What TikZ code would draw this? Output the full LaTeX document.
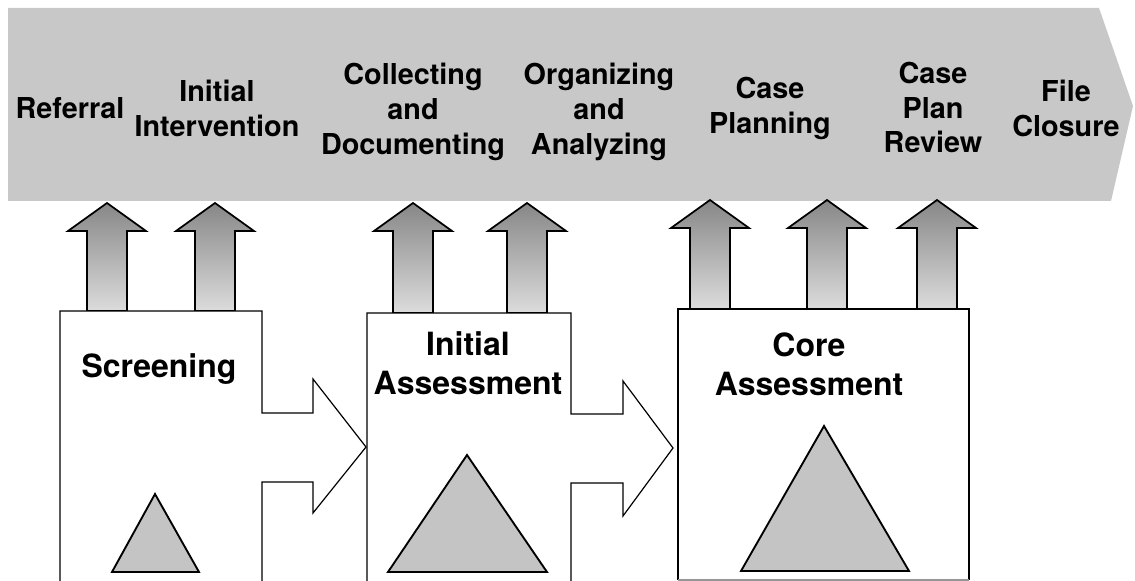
\documentclass[tikz,border=0pt]{standalone}
\usepackage{fontspec}
\setmainfont{TeX Gyre Heros}
\begin{document}
\begin{tikzpicture}[x=0.75pt,y=-0.75pt,
  bannerfill/.style={fill={rgb,255:red,200;green,200;blue,200}},
  steplabel/.style={inner sep=0pt,anchor=north,align=center,
    font=\fontsize{21.6}{26}\selectfont\bfseries},
  boxlabel/.style={inner sep=0pt,anchor=north,align=center,
    font=\fontsize{24}{29.25}\selectfont\bfseries},
  stagebox/.style={draw=black,line width=0.9pt,line join=miter},
  pyramid/.style={draw=black,line width=1.4pt,line join=miter,
    fill={rgb,255:red,196;green,196;blue,196}},
  uparrow/.style={draw=black,line width=1.3pt,line join=miter,
    top color={rgb,255:red,135;green,135;blue,135},
    bottom color={rgb,255:red,220;green,220;blue,220}}
]
\useasboundingbox (0,0) rectangle (1135,581);

% process banner
\path[bannerfill] (8,8) -- (1099,8) -- (1133,106) -- (1111,201) -- (8,201) -- cycle;

% step labels in the banner
\node[steplabel] (ref)      at (70,97)   {Referral};
\node[steplabel] (initint)  at (217,80)  {Initial\\Intervention};
\node[steplabel] (collect)  at (413,63)  {Collecting\\and\\Documenting};
\node[steplabel] (organize) at (599,63)  {Organizing\\and\\Analyzing};
\node[steplabel] (caseplan) at (770,77)  {Case\\Planning};
\node[steplabel] (review)   at (933,62)  {Case\\Plan\\Review};
\node[steplabel] (closure)  at (1066,80) {File\\Closure};

% up arrows from the stages into the banner: centre / tip / head base / foot
\foreach \cx/\tip/\hb/\foot in {107/203/231/311, 215/203/231/311,
    413/203/231/313, 527/203/231/313,
    710/200/228/309, 827/200/228/309, 937/200/228/309}{
  \path[uparrow] (\cx,\tip) -- (\cx+39,\hb) -- (\cx+20,\hb) -- (\cx+20,\foot)
    -- (\cx-20,\foot) -- (\cx-20,\hb) -- (\cx-39,\hb) -- cycle;
}

% stage boxes with their outgoing arrows
\draw[stagebox,fill=white] (60,581) -- (60,311) -- (262,311) -- (262,413)
  -- (313,413) -- (313,379) -- (366,447) -- (313,513) -- (313,482)
  -- (262,482) -- (262,581);
\draw[stagebox,fill=white] (367,581) -- (367,313) -- (571,313) -- (571,414)
  -- (623,414) -- (623,381) -- (673,448) -- (623,516) -- (623,483)
  -- (571,483) -- (571,581);
\draw[stagebox,fill=white] (678,580) -- (678,309) -- (969,309) -- (969,580);
\draw[line width=0.9pt,draw={rgb,255:red,150;green,150;blue,150}] (678,580) -- (969,580);

% stage titles
\node[boxlabel] (screening)  at (159,353) {Screening};
\node[boxlabel] (initassess) at (468,331) {Initial\\Assessment};
\node[boxlabel] (coreassess) at (809,333) {Core\\Assessment};

% pyramids growing with each stage
\path[pyramid] (155,494) -- (199,572) -- (112,572) -- cycle;
\path[pyramid] (467,455) -- (547,572) -- (388,572) -- cycle;
\path[pyramid] (824,426) -- (909,571) -- (741,571) -- cycle;
\end{tikzpicture}
\end{document}
